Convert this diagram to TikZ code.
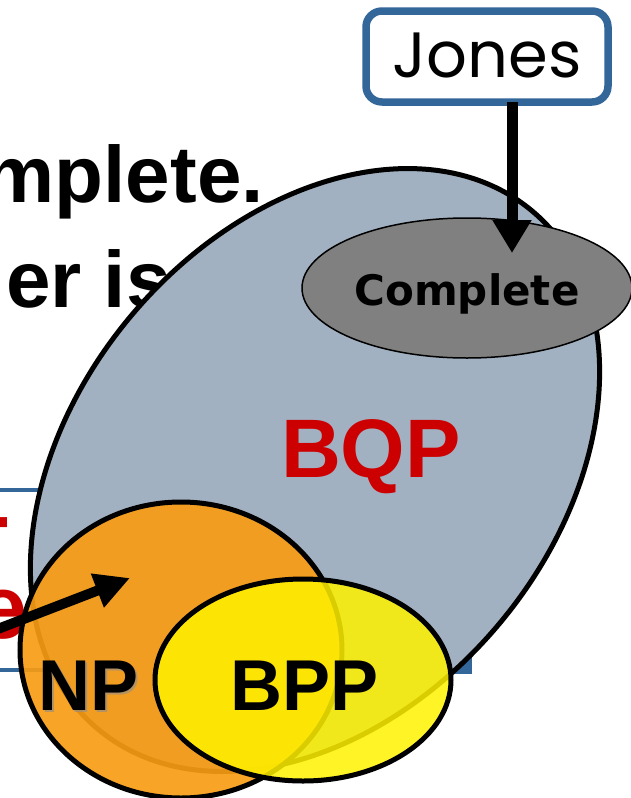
\documentclass[tikz,border=0pt]{standalone}
\usepackage{fontspec}
\setmainfont{Liberation Sans}
\newfontfamily\dvs{DejaVu Sans}
\newfontfamily\jonesfont{Poppins}
\usetikzlibrary{shapes.geometric,arrows.meta}
\definecolor{bqpfill}{RGB}{162,177,193}
\definecolor{slideblue}{RGB}{51,102,153}
\definecolor{npor}{RGB}{247,156,20}
\definecolor{bppy}{RGB}{255,242,0}
\definecolor{redlab}{RGB}{204,0,0}
\definecolor{cgray}{RGB}{128,128,128}
\begin{document}
\begin{tikzpicture}[x=1pt,y=-1pt,
  setellipse/.style={ellipse, draw=black, line width=5pt, inner sep=0pt},
  slidetext/.style={inner sep=0pt, font=\fontsize{80}{80}\selectfont\bfseries},
  redtext/.style={inner sep=0pt, text=redlab, font=\fontsize{90}{90}\selectfont\bfseries},
  biglab/.style={inner sep=0pt, anchor=base, font=\fontsize{72}{72}\selectfont\bfseries},
  bigarrow/.style={draw=black}
]
\path[use as bounding box, clip] (0,0) rectangle (631,798);

% background slide content
\node[slidetext, anchor=base east] (t1) at (264,202) {mplete.};
\node[slidetext, anchor=base west] (t2) at (6,307) {er is};
\node[redtext, anchor=base east] (r1) at (9,579) {T};
\node[redtext, anchor=base east] (r2) at (28,638) {e};
\draw[slideblue, line width=4pt] (-10,490) rectangle (470,670);
\fill[slideblue] (452,655) rectangle (472,674);

% BQP
\node[setellipse, fill=bqpfill, minimum width=676pt, minimum height=480pt, rotate=50] (bqp) at (315,470) {};
\node[ellipse, draw=black, line width=1.5pt, fill=cgray, minimum width=330pt, minimum height=140pt,
      inner sep=0pt, text height=41pt, text depth=6pt,
      font=\dvs\bfseries\fontsize{42}{42}\selectfont] (comp) at (467,288) {Complete};
\node[inner sep=0pt, anchor=base, text=redlab, font=\fontsize{83}{83}\selectfont\bfseries] (bqplab) at (371,477) {BQP};

% NP and BPP
\node[setellipse, fill=npor, fill opacity=0.92, minimum width=322pt, minimum height=296pt] (np) at (181,650) {};
\node[setellipse, fill=bppy, fill opacity=0.85, minimum width=296pt, minimum height=202pt] (bpp) at (303,680) {};
\node[biglab, text=black!45, opacity=0.6] (npshadow) at (91,712) {NP};
\node[biglab] (nplab) at (89,710) {NP};
\node[biglab] (bpplab) at (305,710) {BPP};

% arrows
\coordinate (ctip) at (512,253);
\coordinate (lstart) at (-10,632);
\coordinate (ltip) at (130,578);
\draw[bigarrow, line width=10pt, -{Triangle[length=35pt,width=34pt]}] (lstart) -- (ltip);

% Jones box
\node[draw=slideblue, line width=7.5pt, rounded corners=16pt, fill=white, minimum width=242pt,
      minimum height=91pt, inner sep=0pt, text height=50pt, text depth=9pt,
      font=\jonesfont\fontsize{64}{64}\selectfont] (jones) at (487,56.5) {Jones};
\draw[bigarrow, line width=11pt, -{Triangle[length=33pt,width=37pt]}] ([yshift=4pt]jones.south -| ctip) -- (ctip);
\end{tikzpicture}
\end{document}
